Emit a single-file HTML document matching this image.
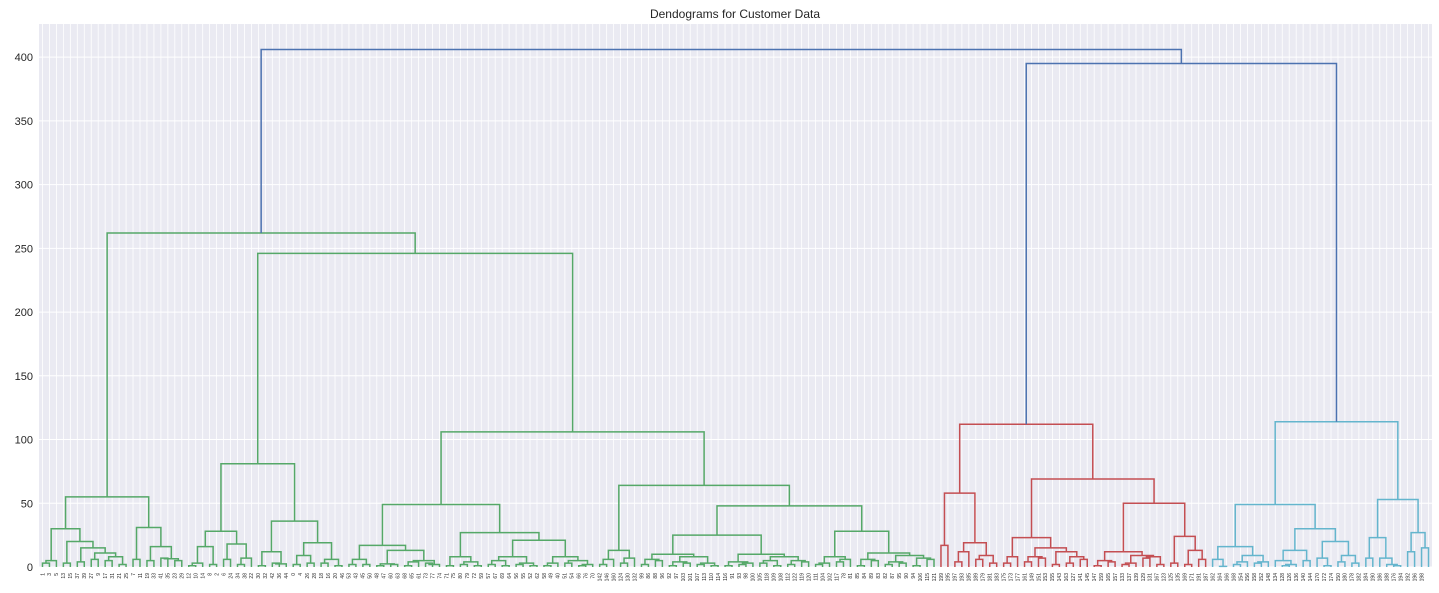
<!DOCTYPE html>
<html><head><meta charset="utf-8">
<style>
html,body{margin:0;padding:0;background:#fff;}
svg{display:block;font-family:"Liberation Sans","DejaVu Sans",sans-serif;}
</style></head>
<body>
<svg id="chart" width="1439" height="593" viewBox="0 0 1439 593" xmlns="http://www.w3.org/2000/svg">
  <rect x="39" y="24" width="1393" height="543" fill="#eaeaf2"/>
  <g id="grid"></g>
  <g id="links"></g>
  <g id="yaxis"></g>
  <g id="xaxis"></g>
  <text x="735" y="18" text-anchor="middle" font-size="12" fill="#262626">Dendograms for Customer Data</text>
</svg>
<script>
// ---- data ----
const yTicks = [0, 50, 100, 150, 200, 250, 300, 350, 400];
const A1 = [[[0,1,3],2,5],[[3,4,3],[[5,6,4],[[7,8,6],[[9,10,5],[11,12,2],8],11],15],20],30];
const A2 = [[13,14,6],[[15,16,5],[[17,18,7],[19,20,5],6.5],16],31];
const B1 = [[[[21,22,1],23,3],[24,25,2],16],[[26,27,6],[[28,29,2],30,7],18],28];
const B2 = [[[31,32,1],[[33,34,3],35,2.5],12],[[[36,37,2],[38,39,3],9],[[40,41,3],[42,43,1],6],19],36];
const C1 = [[[44,45,2],[46,47,2],6],[[[48,49,1],[50,51,2],2.5],[[[52,53,1],54,4],[[55,56,3],57,2],5],13],17];
const C2 = [[[58,59,1],[[60,61,2],[62,63,1],4],8],[[[[64,65,2],[66,67,1],5],[[68,69,2],[70,71,1],3],8],[[[72,73,1],74,3],[[75,76,3],[[77,78,1],79,2],5],8],21],27];
const D1 = [[[80,81,2],82,6],[[83,84,3],85,7],13];
const D2a = [[[[86,87,2],[88,89,5],6],[[[90,91,1],[92,93,3],4],[[94,95,2],[96,97,1],3],8],10],[[[98,99,1],[[100,101,2],102,3],4],[[[103,104,3],[105,106,1],5],[[107,108,2],[109,110,4],5],8],10],25];
const D2b = [[[[111,112,2],113,3],[[114,115,4],116,6],8],[[[117,118,1],[119,120,5],6],[[[121,122,2],[123,124,3],4],[[125,126,1],[127,128,6],7],9],11],28];
const R1 = [[129,130,17],[[[131,132,4],133,12],[[134,135,6],[136,137,3],9],19],58];
const R2a = [[[138,139,3],140,8],[[[141,142,4],[143,144,7],8],[[145,146,2],[[147,148,3],[149,150,6],8],12],15],23];
const R2b = [[[[151,152,1],[153,154,4],5],[[[155,156,2],157,3],[[158,159,7],[160,161,2],8],9],12],[[162,163,3],[[164,165,2],[166,167,6],13],24],50];
const Cy1 = [[[168,[169,170,0.5],6],[[[171,172,2],173,4],[[174,175,3],176,4],9],16],[[[177,[[178,179,1],180,2],5],[181,182,5],13],[[183,[184,185,1],7],[[186,187,4],[188,189,3],9],20],30],49];
const Cy2 = [[[190,191,7],[192,[193,[194,195,1],2],7],23],[[196,197,12],[198,199,15],27],53];
const tree = [[[A1,A2,55],[[B1,B2,81],[[C1,C2,49],[D1,[D2a,D2b,48],64],106],246],262],[[R1,[R2a,R2b,69],112],[Cy1,Cy2,114],395],406];
const leafLabels = [1,3,5,13,15,37,39,27,9,17,31,21,25,7,11,19,33,41,35,23,29,12,10,14,8,2,6,24,34,38,22,30,32,42,36,44,0,4,26,28,18,16,20,46,53,43,45,50,48,47,60,63,68,65,61,73,77,74,71,75,80,79,72,59,57,67,69,64,56,55,52,62,58,49,40,51,54,66,76,70,142,146,160,124,130,132,99,86,88,96,92,97,103,101,107,113,110,114,116,91,93,98,100,105,118,109,108,112,122,119,120,111,104,102,117,78,81,85,84,89,83,82,87,95,90,94,106,115,121,199,195,197,193,185,189,179,181,183,175,173,177,161,149,151,153,155,143,163,127,141,145,147,159,165,157,133,137,139,129,131,167,123,125,135,169,171,191,187,162,164,166,168,154,156,158,152,148,134,128,126,136,140,144,170,172,174,150,180,178,182,184,190,186,188,176,194,192,196,198];
const clusterColors = ['#55a868','#c44e52','#64b5cd'];
const aboveColor = '#4c72b0';
const colorThreshold = 283.5;

// ---- scales ----
const X0 = 39, X1 = 1432, Y0 = 567, Y1 = 24, YMAX = 426, NLEAF = 200;
const xScale = i => X0 + (i + 0.5) * (X1 - X0) / NLEAF;
const yScale = v => Y0 - v * (Y0 - Y1) / YMAX;
const NS = 'http://www.w3.org/2000/svg';
function mk(tag, attrs, parent){ const e = document.createElementNS(NS, tag); for (const k in attrs) e.setAttribute(k, attrs[k]); parent.appendChild(e); return e; }

const grid = document.getElementById('grid');
for (let i = 0; i < NLEAF; i++) {
  const l = mk('line', {x1:xScale(i), x2:xScale(i), y1:Y1, y2:Y0, stroke:'#fff', 'stroke-width':0.8}, grid);
  
  
}
const yaxis = document.getElementById('yaxis');
yTicks.forEach(t => {
  const l = mk('line', {x1:X0, x2:X1, y1:yScale(t), y2:yScale(t), stroke:'#fff', 'stroke-width':1}, grid);
  
  
  const tx = mk('text', {x:X0 - 6, y:yScale(t) + 4, 'text-anchor':'end', 'font-size':11, fill:'#262626'}, yaxis);
  tx.textContent = t;
  
  
});

// ---- layout & draw ----
const links = document.getElementById('links');
let leafIdx = 0, clusterIdx = 0;
const leafOrder = [];
function layout(n, color) {
  if (typeof n === 'number') { const i = leafIdx++; leafOrder.push(n); return {x: xScale(i), h: 0}; }
  const h = n[2];
  let c = color;
  if (h > colorThreshold) c = aboveColor;
  else if (color === aboveColor || !color) { c = clusterColors[clusterIdx % clusterColors.length]; clusterIdx++; }
  const L = layout(n[0], c), R = layout(n[1], c);
  const p = mk('path', {d:`M${L.x},${yScale(L.h)}V${yScale(h)}H${R.x}V${yScale(R.h)}`, fill:'none', stroke:c, 'stroke-width':1.5}, links);
  
  
  return {x: (L.x + R.x) / 2, h: h};
}
layout(tree, null);

const xaxis = document.getElementById('xaxis');
leafOrder.forEach((leaf, i) => {
  const x = xScale(i) + 1.8, y = 573;
  const t = mk('text', {x:x, y:y, transform:`rotate(-90 ${x} ${y})`, 'text-anchor':'end', 'font-size':5, fill:'#262626'}, xaxis);
  t.textContent = leafLabels[leaf];
  
  
});
</script>
</body></html>
